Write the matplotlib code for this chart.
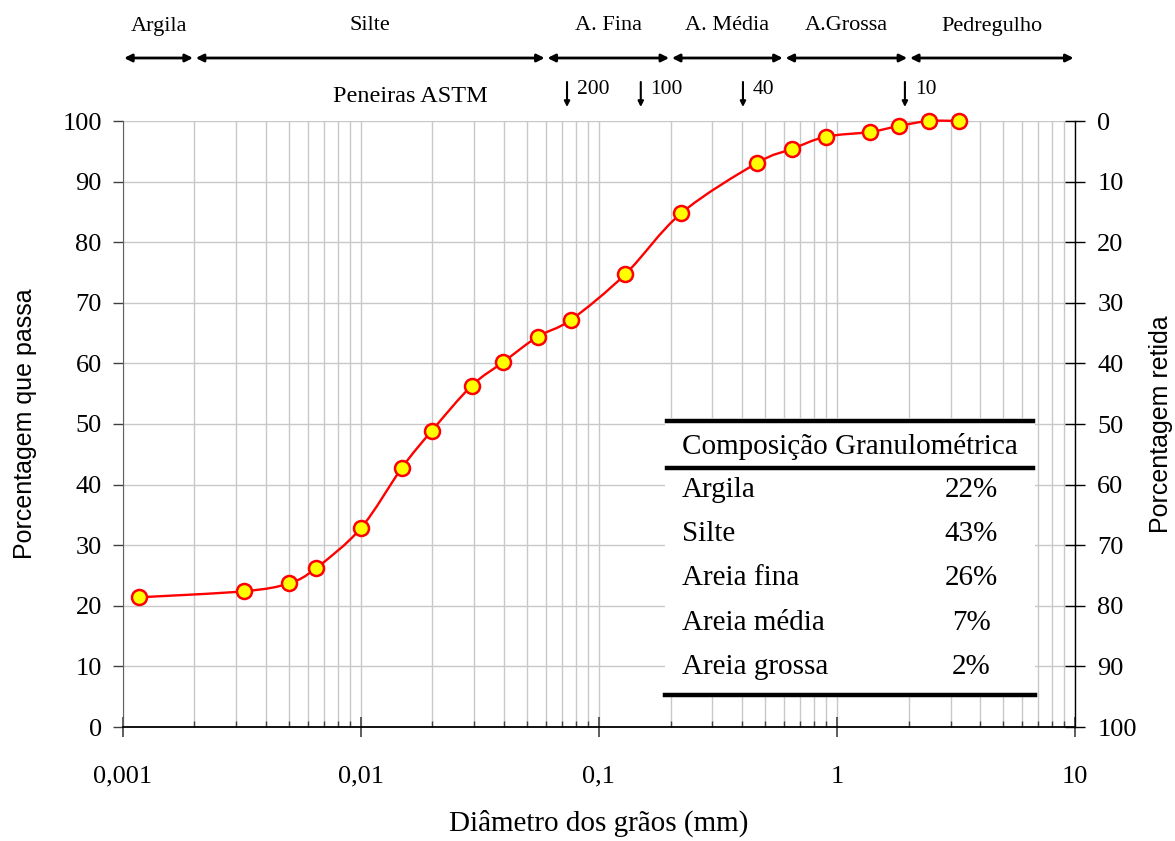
import matplotlib
import numpy as np

matplotlib.use("Agg")
import matplotlib.pyplot as plt
from matplotlib.lines import Line2D
from matplotlib.patches import PathPatch, Rectangle
from matplotlib.path import Path
from matplotlib.ticker import FixedLocator, LogLocator, NullFormatter

plt.rcParams["font.family"] = ["Liberation Serif", "DejaVu Serif"]

# Grain-size distribution (diameter in mm, percent passing)
diam = [0.00117, 0.00323, 0.00499, 0.00648, 0.0100, 0.0149, 0.0199, 0.0292,
        0.0396, 0.0553, 0.0764, 0.129, 0.222, 0.463, 0.649, 0.897, 1.38,
        1.83, 2.43, 3.25]
passing = [21.4, 22.4, 23.7, 26.2, 32.8, 42.8, 48.9, 56.3, 60.2, 64.4, 67.2,
           74.7, 84.8, 93.1, 95.4, 97.4, 98.2, 99.2, 100.0, 100.0]

# Soil fractions (ABNT boundaries, mm)
fraction_names = ["Argila", "Silte", "A. Fina", "A. Média", "A.Grossa", "Pedregulho"]
fraction_bounds = [0.001, 0.002, 0.06, 0.2, 0.6, 2.0, 10.0]

# ASTM sieves marked above the chart
sieve_numbers = ["200", "100", "40", "10"]
sieve_sizes = [0.0735, 0.150, 0.403, 1.93]

# Composition table
comp_names = ["Argila", "Silte", "Areia fina", "Areia média", "Areia grossa"]
comp_values = ["22%", "43%", "26%", "7%", "2%"]

W, H = 1175, 841
fig = plt.figure(figsize=(W / 100, H / 100), dpi=100)
ax = fig.add_axes([122.7 / W, 1 - 727 / H, 952.3 / W, 606 / H])


def fx(px):
    return px / W


def fy(py):
    return 1 - py / H


ax.set_xscale("log")
ax.set_xlim(0.001, 10)
ax.set_ylim(0, 100)

# grid
ax.xaxis.set_minor_locator(LogLocator(base=10, subs=np.arange(2, 10)))
ax.xaxis.set_minor_formatter(NullFormatter())
ax.grid(True, which="both", axis="x", color="#c8c8c8", linewidth=1.0)
ax.grid(True, which="major", axis="y", color="#c8c8c8", linewidth=1.0)
ax.set_axisbelow(True)

ax.yaxis.set_major_locator(FixedLocator(np.arange(0, 101, 10)))
ax.xaxis.set_major_locator(FixedLocator([0.001, 0.01, 0.1, 1, 10]))
ax.set_xticklabels(["0,001", "0,01", "0,1", "1", "10"])

ax.spines["top"].set_visible(False)
ax.spines["right"].set_visible(False)
ax.spines["left"].set_color("#606060")
ax.spines["bottom"].set_color("black")
ax.spines["bottom"].set_linewidth(1.3)

ax.tick_params(axis="x", which="major", direction="inout", length=14,
               color="#505050", width=1.3, labelsize=19, pad=21)
ax.tick_params(axis="x", which="minor", direction="in", length=4.5,
               color="#404040", width=1.0)
ax.tick_params(axis="y", which="major", direction="out", length=7,
               color="#404040", width=1.0, labelsize=19, pad=8)

ax.set_xlabel("Diâmetro dos grãos (mm)", fontsize=21, labelpad=16)
ax.set_ylabel("Porcentagem que passa", fontsize=18,
              family=["Liberation Sans", "DejaVu Sans"], labelpad=18)

# retained percentage on the right
ax2 = ax.twinx()
ax2.set_ylim(100, 0)
ax2.yaxis.set_major_locator(FixedLocator(np.arange(0, 101, 10)))
for side in ["top", "left", "bottom"]:
    ax2.spines[side].set_visible(False)
ax2.spines["right"].set_color("black")
ax2.spines["right"].set_linewidth(1.0)
ax2.tick_params(axis="y", direction="inout", length=14, color="black",
                width=1.0, labelsize=19, pad=9)
ax2.set_ylabel("Porcentagem retida", fontsize=18,
               family=["Liberation Sans", "DejaVu Sans"], labelpad=9)

# smoothed curve (Catmull-Rom style Bezier in log-x space)
pts = np.column_stack([np.log10(diam), passing])
n = len(pts)
verts = [pts[0]]
codes = [Path.MOVETO]
for i in range(n - 1):
    p0 = pts[i - 1] if i > 0 else pts[i]
    p1, p2 = pts[i], pts[i + 1]
    p3 = pts[i + 2] if i + 2 < n else pts[i + 1]
    verts += [p1 + (p2 - p0) / 6, p2 - (p3 - p1) / 6, p2]
    codes += [Path.CURVE4] * 3
verts = np.array(verts)
verts[:, 0] = 10 ** verts[:, 0]
ax.add_patch(PathPatch(Path(verts, codes), facecolor="none", edgecolor="red",
                       linewidth=1.7, zorder=4, clip_on=False))
ax.plot(diam, passing, "o", ms=10.8, mfc="yellow", mec="red", mew=1.8,
        zorder=5, clip_on=False)

# fraction arrows and names above the axes
arrow_y = 1 + 63 / 606
name_y = 1 + 95 / 606
for name, lo, hi in zip(fraction_names, fraction_bounds[:-1], fraction_bounds[1:]):
    ax.annotate("", xy=(hi, arrow_y), xytext=(lo, arrow_y),
                xycoords=("data", "axes fraction"),
                arrowprops=dict(arrowstyle="<|-|>", color="black", lw=2.0,
                                mutation_scale=11, shrinkA=1, shrinkB=1),
                annotation_clip=False)
    mid = np.sqrt(lo * hi)
    ax.text(mid, name_y, name, transform=ax.get_xaxis_transform(),
            ha="center", va="center", fontsize=16)

# sieve markers
ax.text(0.0162, 1 + 25 / 606, "Peneiras ASTM", transform=ax.get_xaxis_transform(),
        ha="center", va="center", fontsize=17.5)
for num, size in zip(sieve_numbers, sieve_sizes):
    ax.annotate("", xy=(size, 1 + 14 / 606), xytext=(size, 1 + 39 / 606),
                xycoords=("data", "axes fraction"),
                arrowprops=dict(arrowstyle="-|>", color="black", lw=1.5,
                                mutation_scale=8, shrinkA=0, shrinkB=0),
                annotation_clip=False)
    ax.text(size * 1.1, 1 + 32 / 606, num, transform=ax.get_xaxis_transform(),
            ha="left", va="center", fontsize=15.5)

# composition table
fig.add_artist(Rectangle((fx(665), fy(697)), fx(370), 279 / H, transform=fig.transFigure,
                         facecolor="white", edgecolor="none", zorder=2))
for y0, xa, xb in [(420.5, 667, 1033), (467.5, 667, 1033), (695, 665, 1035)]:
    fig.add_artist(Line2D([fx(xa), fx(xb)], [fy(y0), fy(y0)], color="black",
                          linewidth=3.2, transform=fig.transFigure, zorder=3))
fig.text(fx(682), fy(446), "Composição Granulométrica", fontsize=21,
         ha="left", va="center", zorder=4)
for i, (name, val) in enumerate(zip(comp_names, comp_values)):
    yy = 490 + 44.2 * i
    fig.text(fx(682), fy(yy), name, fontsize=21, ha="left", va="center", zorder=4)
    fig.text(fx(971), fy(yy), val, fontsize=21, ha="center", va="center", zorder=4)

fig.savefig("out.png", dpi=100)
